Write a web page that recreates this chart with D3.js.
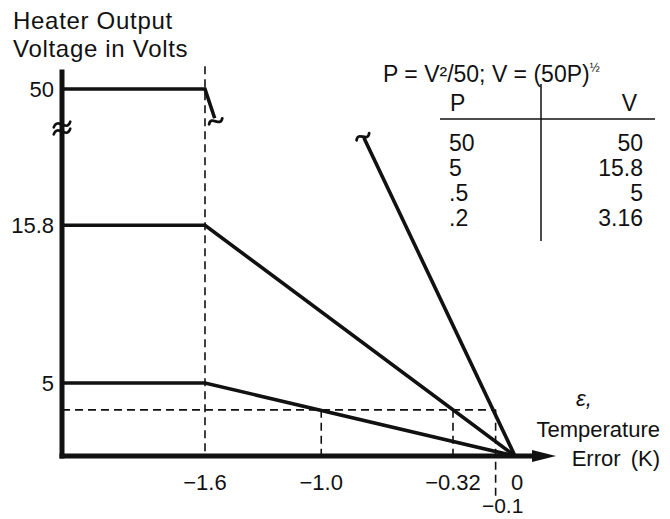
<!DOCTYPE html>
<html><head><meta charset="utf-8">
<script src="https://cdn.jsdelivr.net/npm/d3@7"></script>
<style>
html,body{margin:0;padding:0;background:#fff;}
text{font-family:"Liberation Sans",Arial,Helvetica,sans-serif;fill:#111;}
</style></head>
<body>
<svg id="chart" width="670" height="519"></svg>
<script>
// ---------- data ----------
const saturationLevels = [50, 15.8, 5];            // heater output voltages (V)
const saturationError = -1.6;                       // K, where saturation begins
const yTickValues = [50, 15.8, 5];
const yTickLabels = ["50", "15.8", "5"];
const xTickValues = [-1.6, -1.0, -0.32, 0];
const xTickLabels = ["\u22121.6", "\u22121.0", "\u22120.32", "0"];
const lowTickValue = -0.1;
const lowTickLabel = "\u22120.1";
const refVoltage = 3.16;                            // horizontal dashed reference
const refCrossings = [-1.0, -0.32, -0.1];           // error where each line reaches 3.16 V
const topLineCut = [-1.55, 41];                     // where the 50 V line is broken off
const steepLineCut = [-0.78, 21.8];                 // linear-scale end of the steep 50 V ramp
const tableP = ["50", "5", ".5", ".2"];
const tableV = ["50", "15.8", "5", "3.16"];

// ---------- scales ----------
const svg = d3.select("#chart");
const x = d3.scaleLinear().domain([-2.338, 0]).range([62, 515]);
const yLin = d3.scaleLinear().domain([0, 5]).range([456, 383]);
const y = d3.scaleLinear().domain([0, 18, 50]).range([yLin(0), yLin(18), 89]);

const dash = "8,5";
const g = svg.append("g");

// dashed guides
g.append("line").attr("x1", x(saturationError)).attr("x2", x(saturationError))
  .attr("y1", y(57)).attr("y2", y(0))
  .attr("stroke", "#111").attr("stroke-width", 1.6).attr("stroke-dasharray", dash);
g.append("line").attr("x1", x.range()[0]).attr("x2", x(lowTickValue))
  .attr("y1", yLin(refVoltage)).attr("y2", yLin(refVoltage))
  .attr("stroke", "#111").attr("stroke-width", 1.6).attr("stroke-dasharray", dash);
refCrossings.forEach(e => {
  g.append("line").attr("x1", x(e)).attr("x2", x(e))
    .attr("y1", yLin(refVoltage)).attr("y2", e === lowTickValue ? yLin(-2.8) : yLin(0))
    .attr("stroke", "#111").attr("stroke-width", 1.6).attr("stroke-dasharray", dash);
});

// characteristic lines
const line = d3.line().x(d => x(d[0])).y(d => d[2] ? yLin(d[1]) : y(d[1]));
saturationLevels.forEach(v => {
  let pts;
  if (v === 50) pts = [[x.domain()[0], v], [saturationError, v], topLineCut];
  else pts = [[x.domain()[0], v], [saturationError, v], [0, 0]];
  g.append("path").attr("d", line(pts)).attr("fill", "none")
    .attr("stroke", "#111").attr("stroke-width", 3.6).attr("stroke-linejoin", "miter");
});
g.append("path").attr("d", line([[0, 0, 1], [steepLineCut[0], steepLineCut[1], 1]]))
  .attr("fill", "none").attr("stroke", "#111").attr("stroke-width", 3.6);

// break marks (tildes)
function tilde(parent, cx, cy, w, rot, sw) {
  const h = w * 0.32;
  parent.append("path")
    .attr("d", `M${-w/2},${h*0.4} C${-w/4},${-h*1.6} ${w/4},${h*1.6} ${w/2},${-h*0.4}`)
    .attr("transform", `translate(${cx},${cy}) rotate(${rot})`)
    .attr("fill", "none").attr("stroke", "#111").attr("stroke-width", sw).attr("stroke-linecap", "round");
}
tilde(g, x(topLineCut[0]) + 1, y(topLineCut[1]) + 3, 14, -10, 2.8);
tilde(g, x(steepLineCut[0]) - 1, yLin(steepLineCut[1]) - 1, 14, -15, 2.8);

// axes
const axisG = svg.append("g");
axisG.append("line").attr("x1", x.range()[0]).attr("x2", x.range()[0])
  .attr("y1", y(56)).attr("y2", yLin(0) + 2.5)
  .attr("stroke", "#111").attr("stroke-width", 5);
// y-axis break (double tilde)
tilde(axisG, x.range()[0], y(38) - 3.5, 17, -5, 2.6);
tilde(axisG, x.range()[0], y(38) + 3.5, 17, -5, 2.6);
// x-axis with arrow
axisG.append("line").attr("x1", x.range()[0] - 2.5).attr("x2", 540)
  .attr("y1", yLin(0)).attr("y2", yLin(0)).attr("stroke", "#111").attr("stroke-width", 5);
axisG.append("path").attr("d", `M532,${yLin(0)-6} L556,${yLin(0)} L532,${yLin(0)+6} Z`).attr("fill", "#111");

// tick labels
const yLab = svg.append("g").attr("font-size", 22).attr("text-anchor", "end");
yTickValues.forEach((v, i) => {
  yLab.append("text").attr("x", x.range()[0] - 8).attr("y", y(v)).attr("dy", "0.36em").text(yTickLabels[i]);
});
const xLab = svg.append("g").attr("font-size", 22).attr("text-anchor", "middle");
xTickValues.forEach((v, i) => {
  xLab.append("text").attr("x", x(v) + (v === 0 ? 2 : 0)).attr("y", 490).text(xTickLabels[i]);
});
xLab.append("text").attr("x", x(lowTickValue) + 7).attr("y", 513).attr("font-size", 21).text(lowTickLabel);

// axis titles
const t = svg.append("g").attr("font-size", 24).attr("letter-spacing", 0.7);
t.append("text").attr("x", 13).attr("y", 29).text("Heater Output");
t.append("text").attr("x", 13).attr("y", 57).text("Voltage in Volts");
const t2 = svg.append("g").attr("font-size", 22);
t2.append("text").attr("x", 576).attr("y", 406).attr("font-style", "italic")
  .attr("font-family", "'DejaVu Serif',serif").text("\u03b5,");
t2.append("text").attr("x", 660).attr("y", 437).attr("text-anchor", "end").text("Temperature");
t2.append("text").attr("x", 660).attr("y", 466).attr("text-anchor", "end").attr("word-spacing", 4).text("Error (K)");

// formula
const f = svg.append("text").attr("x", 383).attr("y", 82).attr("font-size", 23);
f.append("tspan").text("P = V\u00b2/50; V = (50P)");
f.append("tspan").attr("font-size", 12).attr("dy", -10).text("\u00bd");

// table
const tb = svg.append("g");
tb.append("line").attr("x1", 541).attr("x2", 541).attr("y1", 84).attr("y2", 241)
  .attr("stroke", "#111").attr("stroke-width", 1.5);
tb.append("line").attr("x1", 440).attr("x2", 655).attr("y1", 119).attr("y2", 119)
  .attr("stroke", "#111").attr("stroke-width", 1.5);
tb.append("text").attr("x", 450).attr("y", 111).attr("font-size", 23).text("P");
tb.append("text").attr("x", 637).attr("y", 111).attr("font-size", 23).attr("text-anchor", "end").text("V");
tableP.forEach((p, i) => {
  tb.append("text").attr("x", 449).attr("y", 151 + i * 25).attr("font-size", 23).text(p);
  tb.append("text").attr("x", 643).attr("y", 151 + i * 25).attr("font-size", 23).attr("text-anchor", "end").text(tableV[i]);
});
</script>
</body></html>
